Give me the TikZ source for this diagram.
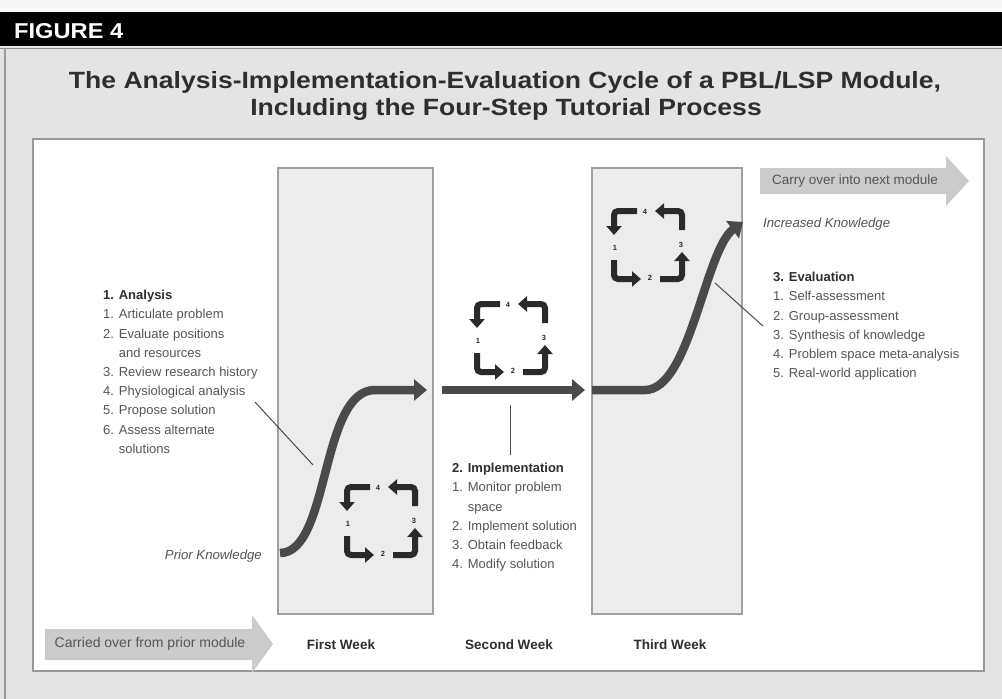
\documentclass[tikz,border=0pt]{standalone}
\usepackage{fontspec}
\setmainfont{Liberation Sans}
\usetikzlibrary{arrows.meta}
\definecolor{bgray}{HTML}{E4E4E4}
\definecolor{colfill}{HTML}{ECECEC}
\definecolor{colline}{HTML}{A0A0A0}
\definecolor{flowc}{HTML}{4A4A4A}
\definecolor{iconc}{HTML}{2A2A2A}
\definecolor{txt}{HTML}{555555}
\definecolor{head}{HTML}{2E2E2E}
\definecolor{bigarrow}{HTML}{CBCBCB}
\tikzset{
  flow/.style={draw=flowc, line width=8.5pt, -{Triangle[length=13pt,width=21pt]}},
  icon/.style={draw=iconc, line width=6pt, rounded corners=4pt, -{Triangle[length=9pt,width=15pt]}},
  num/.style={font=\fontsize{7.5}{7.5}\selectfont\bfseries, text=iconc, inner sep=0pt},
  listtxt/.style={anchor=north west, align=left, inner sep=0pt, text=txt, font=\fontsize{13}{19.2}\selectfont},
  weektxt/.style={font=\fontsize{13.5}{14}\selectfont\bfseries, text=head, inner sep=0pt},
  leader/.style={draw=flowc, line width=1pt},
  knowtxt/.style={font=\fontsize{13.2}{14}\selectfont\itshape, text=txt, inner sep=0pt},
  bigtxt/.style={font=\fontsize{14}{14}\selectfont, text=txt, inner sep=0pt},
  titletxt/.style={anchor=base, inner sep=0pt, text=head, font=\fontsize{23.5}{28}\selectfont\bfseries},
  cyc/.pic={
    \draw[icon] (-11,-34) -- (-34,-34) -- (-34,-10);
    \draw[icon] (-34,15) -- (-34,34) -- (-7,34);
    \draw[icon] (12,34) -- (34,34) -- (34,7);
    \draw[icon] (34,-15) -- (34,-34) -- (7,-34);
    \node[num] (-n4) at (-3,-33) {4};
    \node[num] (-n1) at (-33,3) {1};
    \node[num] (-n2) at (2,33) {2};
    \node[num] (-n3) at (33,0) {3};
  }
}
\begin{document}
\begin{tikzpicture}[x=1pt,y=-1pt]
\useasboundingbox (0,0) rectangle (1002,699);
% background
\fill[bgray] (0,0) rectangle (1002,699);
\fill[black!3] (0,0) rectangle (1002,12);
\fill[black] (0,12) rectangle (1002,46);
\draw[black!45, line width=1pt] (0,48) -- (1002,48);
\draw[black!40, line width=1.2pt] (5,48) -- (5,699);
\node[anchor=base west, text=white, inner sep=0pt, font=\fontsize{21.5}{21.5}\selectfont\bfseries] (fig) at (14,38) {\scalebox{1.1}[1]{FIGURE 4}};
\node[titletxt] (title1) at (505,88) {\scalebox{1.13}[1]{The Analysis-Implementation-Evaluation Cycle of a PBL/LSP Module,}};
\node[titletxt] (title2) at (506,115) {\scalebox{1.13}[1]{Including the Four-Step Tutorial Process}};
% inner panel
\draw[black!40, line width=1.2pt, fill=white] (33,139) rectangle (984,671);
% week columns
\draw[colline, line width=1.5pt, fill=colfill] (278,168) rectangle (433,614);
\draw[colline, line width=1.5pt, fill=colfill] (592,168) rectangle (742,614);
% big grey arrows
\fill[bigarrow] (45,629) -- (252,629) -- (252,615) -- (273,644) -- (252,673) -- (252,660) -- (45,660) -- cycle;
\node[bigtxt] (carried) at (150,644) {Carried over from prior module};
\fill[bigarrow] (760,168) -- (946,168) -- (946,156) -- (969,181) -- (946,206) -- (946,194) -- (760,194) -- cycle;
\node[bigtxt] (carry) at (855,181) {\fontsize{13.5}{14}\selectfont Carry over into next module};
% week labels
\node[weektxt] (w1) at (341,645) {First Week};
\node[weektxt] (w2) at (509,645) {Second Week};
\node[weektxt] (w3) at (670,645) {Third Week};
% knowledge labels
\node[knowtxt, anchor=east] (prior) at (262,556) {Prior Knowledge};
\node[knowtxt, anchor=west] (incr) at (763,224) {Increased Knowledge};
% flow arrows
\coordinate (s1) at (280,553);
\coordinate (e1) at (427,390);
\coordinate (s2) at (442,390);
\coordinate (e2) at (585,390);
\coordinate (s3) at (592,390);
\coordinate (e3) at (743,222);
\draw[flow] (s1) .. controls (330,553) and (320,390) .. (375,390) -- (e1);
\draw[flow] (s2) -- (e2);
\draw[flow] (s3) -- (645,390) .. controls (690,390) and (705,250) .. (e3);
% cycle icons
\pic (c1) at (381,521) {cyc};
\pic (c2) at (511,338) {cyc};
\pic (c3) at (648,245) {cyc};
% text blocks
\node[listtxt] (ana) at (103,290) {{\bfseries\color{head}1. Analysis}\\
1. Articulate problem\\
2. Evaluate positions\\
\phantom{2. }and resources\\
3. Review research history\\
4. Physiological analysis\\
5. Propose solution\\
6. Assess alternate\\
\phantom{6. }solutions};
\node[listtxt] (imp) at (452,463) {{\bfseries\color{head}2. Implementation}\\
1. Monitor problem\\
\phantom{1. }space\\
2. Implement solution\\
3. Obtain feedback\\
4. Modify solution};
\node[listtxt] (eva) at (773,272) {{\bfseries\color{head}3. Evaluation}\\
1. Self-assessment\\
2. Group-assessment\\
3. Synthesis of knowledge\\
4. Problem space meta-analysis\\
5. Real-world application};
% leader lines
\coordinate (la1) at (255,402);
\coordinate (la2) at (313,465);
\coordinate (li1) at (510,405);
\coordinate (li2) at (510,455);
\coordinate (le1) at (715,283);
\coordinate (le2) at (763,326);
\draw[leader] (la1) -- (la2);
\draw[leader] (li1) -- (li2);
\draw[leader] (le1) -- (le2);
\end{tikzpicture}
\end{document}
